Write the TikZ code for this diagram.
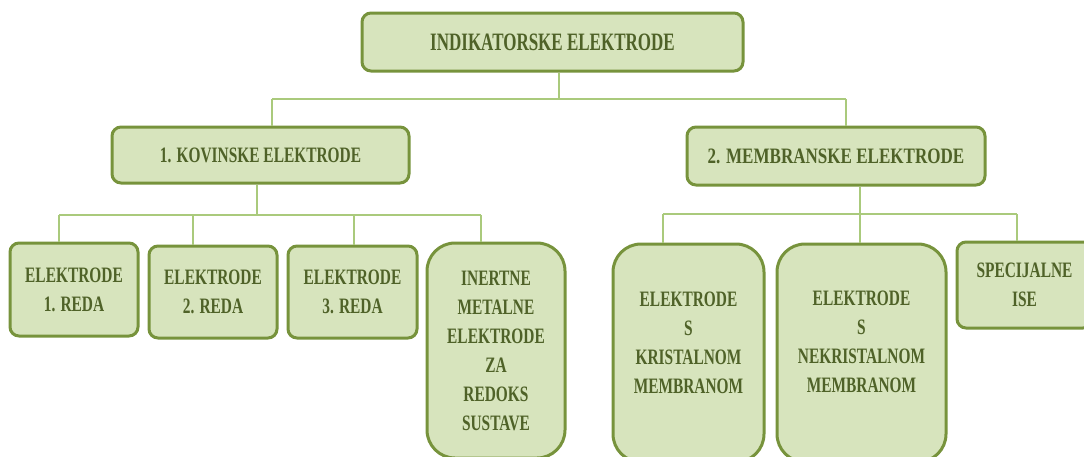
\documentclass[tikz,border=0pt]{standalone}
\usepackage{fontspec}
\newfontfamily\boxfont{Liberation Serif Bold}[FakeStretch=0.70]
\newfontfamily\memfont{Liberation Serif Bold}[FakeStretch=0.775]
\newfontfamily\topfont{Liberation Serif Bold}[FakeStretch=0.68]
\definecolor{boxfill}{HTML}{D7E4BD}
\definecolor{boxline}{HTML}{77933C}
\definecolor{boxtext}{HTML}{4F6228}
\definecolor{connline}{HTML}{AACA7C}
\tikzset{
  box/.style={draw=boxline, line width=3pt, fill=boxfill, rounded corners=9pt,
    text=boxtext, align=center, inner sep=0pt,
    font=\boxfont\fontsize{22}{29}\selectfont},
  tallbox/.style={box, rounded corners=28pt},
  conn/.style={draw=connline, line width=2pt},
  intext/.style={text=boxtext, align=center, inner sep=0pt,
    font=\boxfont\fontsize{22}{29}\selectfont}
}
\begin{document}
\begin{tikzpicture}[x=1pt,y=-1pt]
\useasboundingbox (0,0) rectangle (1084,456);
\clip (0,0) rectangle (1084,456);
% nodes
\node[box, minimum width=381pt, minimum height=58pt,
      font=\topfont\fontsize{25}{29}\selectfont] (top) at (552.5,42) {INDIKATORSKE ELEKTRODE};
\node[box, minimum width=297pt, minimum height=56pt] (kov) at (260.5,155) {1. KOVINSKE ELEKTRODE};
\node[box, minimum width=298pt, minimum height=58pt,
      font=\memfont\fontsize{22}{29}\selectfont] (mem) at (836,156) {2. MEMBRANSKE ELEKTRODE};
\node[box, minimum width=128pt, minimum height=93pt] (r1) at (74,289.5) {ELEKTRODE\\1. REDA};
\node[box, minimum width=128pt, minimum height=92pt] (r2) at (213,292) {ELEKTRODE\\2. REDA};
\node[box, minimum width=129pt, minimum height=92pt] (r3) at (352.5,292) {ELEKTRODE\\3. REDA};
\node[tallbox, minimum width=138pt, minimum height=215pt] (inert) at (496,350.5)
  {INERTNE\\METALNE\\ELEKTRODE\\ZA\\REDOKS\\SUSTAVE};
\node[tallbox, minimum width=151pt, minimum height=218pt] (kris) at (688.5,353) {};
\node[intext] (kristxt) at (688.5,343) {ELEKTRODE\\S\\KRISTALNOM\\MEMBRANOM};
\node[tallbox, minimum width=169pt, minimum height=218pt] (nekris) at (861.5,353) {};
\node[intext] (nekristxt) at (861.5,342) {ELEKTRODE\\S\\NEKRISTALNOM\\MEMBRANOM};
\node[box, minimum width=135pt, minimum height=86pt] (spec) at (1024.5,285) {SPECIJALNE\\ISE};
% bus coordinates
\coordinate (bus0) at (0,99);
\coordinate (bus1) at (0,215);
\coordinate (bus2) at (0,214);
% level 0 -> 1
\draw[conn] ([xshift=6.5pt]top.south) -- ([xshift=6.5pt]top.south |- bus0);
\draw[conn] ([xshift=11.5pt]kov.north |- bus0) -- ([xshift=10pt]mem.north |- bus0);
\draw[conn] ([xshift=11.5pt]kov.north |- bus0) -- ([xshift=11.5pt]kov.north);
\draw[conn] ([xshift=10pt]mem.north |- bus0) -- ([xshift=10pt]mem.north);
% kovinske
\draw[conn] ([xshift=-3.5pt]kov.south) -- ([xshift=-3.5pt]kov.south |- bus1);
\draw[conn] ([xshift=-15pt]r1.north |- bus1) -- ([xshift=-15pt]inert.north |- bus1);
\draw[conn] ([xshift=-15pt]r1.north |- bus1) -- ([xshift=-15pt]r1.north);
\draw[conn] ([xshift=-20pt]r2.north |- bus1) -- ([xshift=-20pt]r2.north);
\draw[conn] ([xshift=1.5pt]r3.north |- bus1) -- ([xshift=1.5pt]r3.north);
\draw[conn] ([xshift=-15pt]inert.north |- bus1) -- ([xshift=-15pt]inert.north);
% membranske
\draw[conn] ([xshift=24pt]mem.south) -- ([xshift=24pt]mem.south |- bus2);
\draw[conn] ([xshift=-25.5pt]kris.north |- bus2) -- ([xshift=-7.5pt]spec.north |- bus2);
\draw[conn] ([xshift=-25.5pt]kris.north |- bus2) -- ([xshift=-25.5pt]kris.north);
\draw[conn] ([xshift=-1.5pt]nekris.north |- bus2) -- ([xshift=-1.5pt]nekris.north);
\draw[conn] ([xshift=-7.5pt]spec.north |- bus2) -- ([xshift=-7.5pt]spec.north);
\end{tikzpicture}
\end{document}
